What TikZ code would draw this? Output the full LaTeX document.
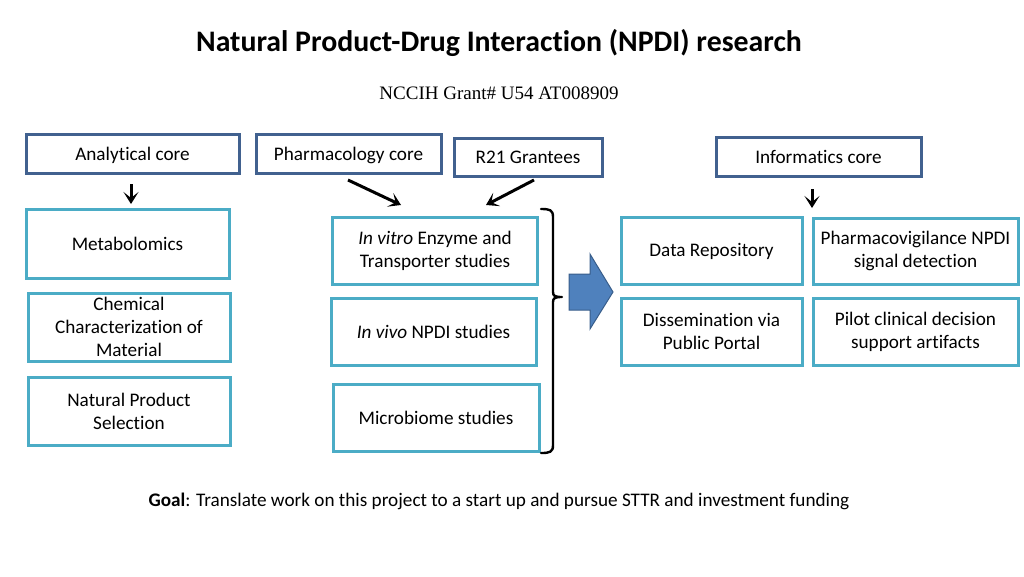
\documentclass[tikz,border=0pt]{standalone}
\usepackage{fontspec}
\setmainfont{Carlito}[Ligatures=NoCommon]
\newfontfamily\timesfont{Liberation Serif}
\usetikzlibrary{arrows.meta}
\definecolor{corecol}{HTML}{41618F}
\definecolor{subcol}{HTML}{4BACC6}
\definecolor{arrowfill}{HTML}{4F81BD}
\definecolor{arrowedge}{HTML}{385D8A}
\begin{document}
\begin{tikzpicture}[x=1pt,y=-1pt,
  corebox/.style={draw=corecol, line width=3pt, fill=white, inner sep=0pt, align=center, font=\fontsize{19.2}{23}\selectfont},
  subbox/.style={draw=subcol, line width=3pt, fill=white, inner sep=0pt, align=center, font=\fontsize{19.2}{23}\selectfont},
  thinarrow/.style={line width=3pt, -{Stealth[length=12pt,width=15pt,inset=6pt]}},
  blockarrow/.style={fill=arrowfill, draw=arrowedge, line width=1pt, line join=miter}
]
\useasboundingbox (0,0) rectangle (1024,576);

% titles
\node[font=\fontsize{29.8}{34}\selectfont\bfseries] (title) at (499,43) {Natural Product-Drug Interaction (NPDI) research};
\node[font=\timesfont\fontsize{19}{22}\selectfont] (grant) at (499,93) {NCCIH Grant\# U54 AT008909};

% top core boxes
\node[corebox, minimum width=213pt, minimum height=39pt] (ana) at (132.5,153.5) {\raisebox{-2pt}[\height][\depth]{Analytical core}};
\node[corebox, minimum width=185pt, minimum height=39pt] (pharm) at (348.5,153.5) {\raisebox{-2pt}[\height][\depth]{Pharmacology core}};
\node[corebox, minimum width=148pt, minimum height=38pt] (r21) at (528,157) {R21 Grantees};
\node[corebox, minimum width=205pt, minimum height=39pt] (info) at (818.5,156.5) {Informatics core};

% left column
\node[subbox, minimum width=203pt, minimum height=69pt] (meta) at (127.5,243.5) {Metabolomics};
\node[subbox, minimum width=202pt, minimum height=68pt] (chem) at (129,327) {Chemical\\Characterization of\\Material};
\node[subbox, minimum width=202pt, minimum height=68pt] (nps) at (129,411) {Natural Product\\Selection};

% middle column
\node[subbox, minimum width=205pt, minimum height=67pt] (vitro) at (435,250.5) {\textit{In vitro} Enzyme and\\Transporter studies};
\node[subbox, minimum width=205pt, minimum height=67pt] (vivo) at (433.5,331.5) {\textit{In vivo} NPDI studies};
\node[subbox, minimum width=206pt, minimum height=67pt] (micro) at (436,417.5) {Microbiome studies};

% right columns
\node[subbox, minimum width=181pt, minimum height=67pt] (repo) at (711.5,251) {Data Repository};
\node[subbox, minimum width=181pt, minimum height=67pt] (diss) at (711.5,331.5) {Dissemination via\\Public Portal};
\node[subbox, minimum width=205pt, minimum height=66pt] (pv) at (915.5,251) {Pharmacovigilance NPDI\\signal detection};
\node[subbox, minimum width=205pt, minimum height=67pt] (pilot) at (915.5,331.5) {Pilot clinical decision\\support artifacts};

% thin arrows
\coordinate (anaS) at (131,184);
\coordinate (anaE) at (131,204);
\draw[thinarrow] (anaS) -- (anaE);
\coordinate (phS) at (348,180);
\coordinate (phE) at (401,205);
\draw[thinarrow] (phS) -- (phE);
\coordinate (rS) at (534,180);
\coordinate (rE) at (486,205);
\draw[thinarrow] (rS) -- (rE);
\coordinate (inS) at (812,189);
\coordinate (inE) at (812,208);
\draw[thinarrow] (inS) -- (inE);

% bracket
\coordinate (brTop) at (541,209);
\coordinate (brBot) at (541,453);
\draw[line width=2.4pt, line cap=round] (brTop) .. controls (550,209) and (553,210) .. (553,217)
  -- (553,292) .. controls (553,296) and (555,297) .. (562,297)
  (562,297) .. controls (555,297) and (553,298) .. (553,302)
  -- (553,445) .. controls (553,452) and (550,453) .. (brBot);

% block arrow
\draw[blockarrow] (569,274) -- (590,274) -- (590,254) -- (613,292) -- (590,329) -- (590,310) -- (569,310) -- cycle;

% goal
\node[anchor=west, font=\fontsize{19.2}{23}\selectfont] (goal) at (145,501) {\textbf{Goal}: Translate work on this project to a start up and pursue STTR and investment funding};
\end{tikzpicture}
\end{document}
